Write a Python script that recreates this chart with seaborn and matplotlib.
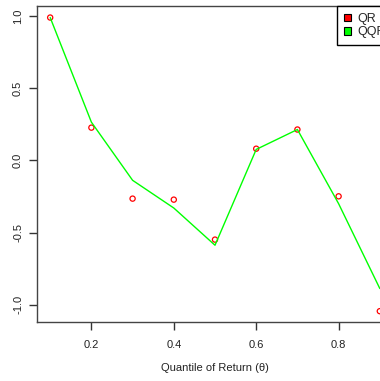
import numpy as np
import pandas as pd
import matplotlib.pyplot as plt
import seaborn as sns
from matplotlib.patches import Patch

# quantiles and estimates
quantiles = [0.1, 0.2, 0.3, 0.4, 0.5, 0.6, 0.7, 0.8, 0.9]
qr_values = [0.99, 0.227, -0.265, -0.272, -0.549, 0.081, 0.214, -0.249, -1.045]
qqr_values = [0.99, 0.265, -0.138, -0.33, -0.588, 0.076, 0.214, -0.30, -0.888]
legend_labels = ["QR", "QQR"]

sns.set_style("ticks")
plt.rcParams["font.family"] = ["Liberation Sans", "DejaVu Sans"]
plt.rcParams["axes.unicode_minus"] = False

df = pd.DataFrame({"theta": quantiles, "qr": qr_values, "qqr": qqr_values})

fig = plt.figure(figsize=(3.8, 3.81), dpi=100)
ax = fig.add_axes([37 / 380, 1 - 322 / 381, 356 / 380, 316 / 381])

sns.lineplot(data=df, x="theta", y="qqr", color="#00ff00", linewidth=1, ax=ax)
sns.scatterplot(data=df, x="theta", y="qr", marker="o", s=14, facecolor="none",
                edgecolor="red", linewidth=0.9, ax=ax)

ax.set_xlim(0.068, 0.932)
ax.set_ylim(-1.12, 1.07)
ax.set_xticks([0.2, 0.4, 0.6, 0.8])
ax.set_yticks([-1.0, -0.5, 0.0, 0.5, 1.0])
ax.set_yticklabels(["-1.0", "-0.5", "0.0", "0.5", "1.0"], rotation=90, va="center")
ax.tick_params(axis="both", direction="out", length=6, width=1, color="#333333",
               labelsize=8, labelcolor="#222222")
ax.tick_params(axis="x", pad=7)
ax.tick_params(axis="y", pad=4)
for s in ax.spines.values():
    s.set_color("#444444")
    s.set_linewidth(1)

ax.set_xlabel("Quantile of Return (\u03b8)", fontsize=8, color="#222222", labelpad=9)
ax.set_ylabel("")

handles = [Patch(facecolor="red", edgecolor="black", linewidth=0.8),
           Patch(facecolor="#00ff00", edgecolor="black", linewidth=0.8)]
leg = ax.legend(handles, legend_labels, loc="upper right", bbox_to_anchor=(1, 1),
                borderaxespad=0, fontsize=9, fancybox=False, framealpha=1,
                handlelength=0.6, handleheight=0.6, handletextpad=0.5,
                labelspacing=0.1, borderpad=0.55)
leg.get_frame().set_edgecolor("black")
leg.get_frame().set_linewidth(1)

plt.savefig("out.png", dpi=100)
